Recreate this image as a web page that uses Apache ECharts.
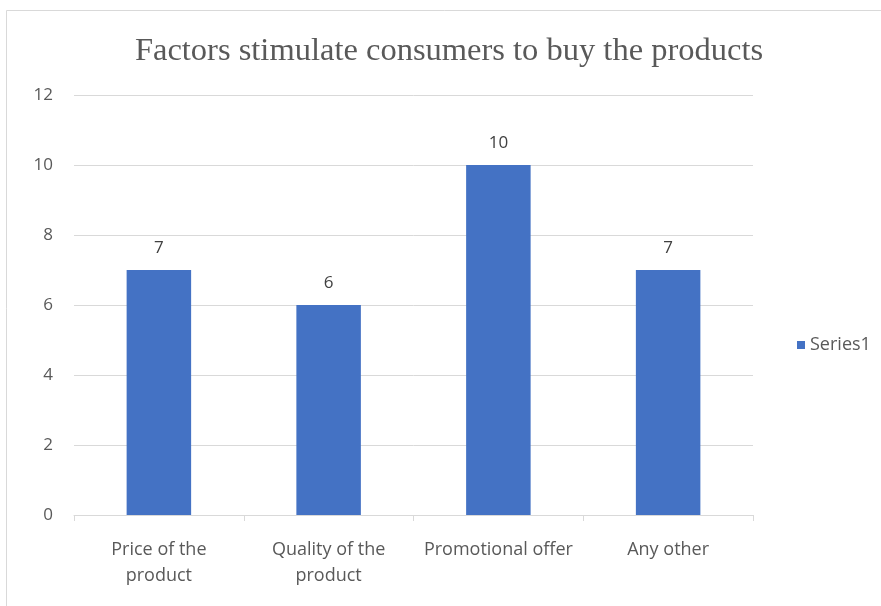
<!DOCTYPE html>
<html><head><meta charset="utf-8">
<script src="https://cdn.jsdelivr.net/npm/echarts@6/dist/echarts.min.js"></script>
<style>html,body{margin:0;padding:0;background:#fff}#c{width:881px;height:606px}</style>
</head><body><div id="c"></div>
<script>
const titleText = 'Factors stimulate consumers to buy the products';
const categories = ['Price of the\nproduct', 'Quality of the\nproduct', 'Promotional offer', 'Any other'];
const seriesName = 'Series1';
const values = [7, 6, 10, 7];
const yMin = 0, yMax = 12, yInterval = 2;

const chart = echarts.init(document.getElementById('c'));
chart.setOption({
  animation: false,
  backgroundColor: '#fff',
  graphic: [{type:'rect', shape:{x:6.5, y:10.5, width:1000, height:1000}, style:{fill:'none', stroke:'#d9d9d9', lineWidth:1}, silent:true}],
  title: {text: titleText, left: 444, top: 30, textAlign: 'center',
    textStyle: {fontFamily: 'Liberation Serif', fontSize: 32.5, fontWeight: 'normal', color: '#595959'}},
  legend: {data:[seriesName], orient:'vertical', left: 792, top: 331, icon:'rect', itemWidth: 8, itemHeight: 8, itemGap: 6,
    textStyle:{fontFamily:'Open Sans', fontSize: 18, color:'#595959'}},
  grid: {left: 74, right: 128, top: 95, bottom: 91, containLabel: false},
  xAxis: {type:'category', data: categories,
    axisLine:{lineStyle:{color:'#d9d9d9'}},
    axisTick:{show:true, length:6, lineStyle:{color:'#d9d9d9'}},
    axisLabel:{margin: 22, fontFamily:'Open Sans', fontSize: 18, color:'#595959', lineHeight: 26, interval: 0}},
  yAxis: {type:'value', min:yMin, max:yMax, interval:yInterval,
    axisLine:{show:false}, axisTick:{show:false},
    splitLine:{lineStyle:{color:'#d9d9d9'}},
    axisLabel:{margin: 21, fontFamily:'Open Sans', fontSize: 17, color:'#595959'}},
  series: [{name: seriesName, type:'bar', data: values, barWidth: '38%',
    itemStyle:{color:'#4472c4'},
    label:{show:true, position:'top', distance: 13, fontFamily:'Open Sans', fontSize: 17, color:'#404040'}}]
});
</script></body></html>
